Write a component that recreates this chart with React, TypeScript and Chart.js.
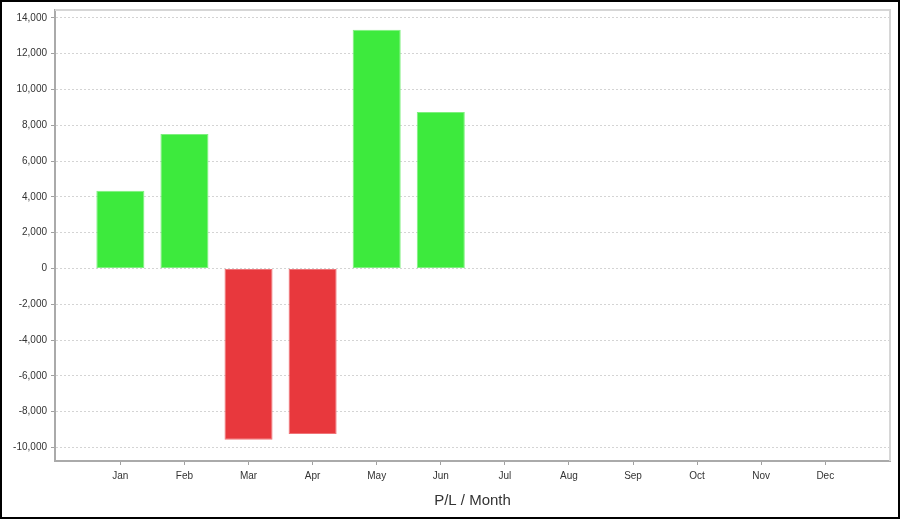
import React, { useEffect, useRef } from 'react';
import { Chart, registerables } from 'chart.js';

Chart.register(...registerables);

const months = ['Jan', 'Feb', 'Mar', 'Apr', 'May', 'Jun', 'Jul', 'Aug', 'Sep', 'Oct', 'Nov', 'Dec'];
const plValues = [4340, 7510, -9570, -9255, 13340, 8740];
const yTickValues = [-10000, -8000, -6000, -4000, -2000, 0, 2000, 4000, 6000, 8000, 10000, 12000, 14000];
const yMin = -10760;
const yMax = 14445;
const xMin = -1.02;
const xMax = 12.01;
const xTitle = 'P/L / Month';

const positiveColor = '#3dea3d';
const negativeColor = '#e8383d';
const positiveEdge = '#7ef07e';
const negativeEdge = '#ef7478';

const FONT = "'Liberation Sans', Arial, sans-serif";

const framePlugin = {
  id: 'frame',
  beforeDatasetsDraw(chart: any) {
    const { ctx, chartArea } = chart;
    ctx.save();
    ctx.strokeStyle = '#d6d6d6';
    ctx.lineWidth = 2;
    ctx.beginPath();
    ctx.moveTo(chartArea.left, chartArea.top);
    ctx.lineTo(chartArea.right, chartArea.top);
    ctx.lineTo(chartArea.right, chartArea.bottom);
    ctx.stroke();
    ctx.restore();
  },
  afterDraw(chart: any) {
    const { ctx, width, height } = chart;
    ctx.save();
    ctx.strokeStyle = '#000';
    ctx.lineWidth = 2;
    ctx.strokeRect(1, 1, width - 2, height - 2);
    ctx.restore();
  },
};

export default function App() {
  const canvasRef = useRef<HTMLCanvasElement | null>(null);

  useEffect(() => {
    if (!canvasRef.current) return;
    const data = plValues.map((v, i) => ({ x: i, y: v }));
    const chart = new Chart(canvasRef.current, {
      type: 'bar',
      data: {
        datasets: [
          {
            data: data as any,
            backgroundColor: plValues.map((v) => (v >= 0 ? positiveColor : negativeColor)),
            borderColor: plValues.map((v) => (v >= 0 ? positiveEdge : negativeEdge)),
            borderWidth: 1,
            borderSkipped: false,
            categoryPercentage: 0.75,
            barPercentage: 1,
          },
        ],
      },
      plugins: [framePlugin],
      options: {
        animation: false,
        responsive: true,
        maintainAspectRatio: false,
        layout: { padding: { left: 0, right: 10, top: 8, bottom: 0 } },
        plugins: {
          legend: { display: false },
          tooltip: { enabled: false },
        },
        scales: {
          x: {
            type: 'linear',
            min: xMin,
            max: xMax,
            offset: false,
            afterBuildTicks: (axis: any) => {
              axis.ticks = months.map((_, i) => ({ value: i }));
            },
            afterFit: (axis: any) => {
              axis.height = 58;
            },
            grid: {
              offset: false,
              drawOnChartArea: false,
              drawTicks: true,
              tickLength: 4,
              tickColor: '#a0a0a0',
            },
            border: { display: true, color: '#aaaaaa', width: 2 },
            ticks: {
              autoSkip: false,
              maxRotation: 0,
              padding: 5,
              color: '#333',
              font: { family: FONT, size: 10 },
              callback: (value: any) => months[value as number] ?? '',
            },
            title: {
              display: true,
              text: xTitle,
              color: '#333',
              font: { family: FONT, size: 15 },
              padding: { top: 0, bottom: 9 },
            },
          },
          y: {
            type: 'linear',
            min: yMin,
            max: yMax,
            afterBuildTicks: (axis: any) => {
              axis.ticks = yTickValues.map((v) => ({ value: v }));
            },
            afterFit: (axis: any) => {
              axis.width = 55;
            },
            grid: {
              color: '#d4d4d4',
              lineWidth: 1,
              drawTicks: true,
              tickLength: 4,
              tickColor: '#a0a0a0',
              tickBorderDash: [],
            },
            border: { display: true, color: '#aaaaaa', width: 2, dash: [2, 2] },
            ticks: {
              padding: 4,
              color: '#333',
              font: { family: FONT, size: 10 },
              callback: (value: any) => Number(value).toLocaleString('en-US'),
            },
          },
        },
      } as any,
    });
    return () => chart.destroy();
  }, []);

  return (
    <div style={{ position: 'fixed', left: 0, top: 0, width: 900, height: 519, background: '#fff' }}>
      <canvas ref={canvasRef} />
    </div>
  );
}
